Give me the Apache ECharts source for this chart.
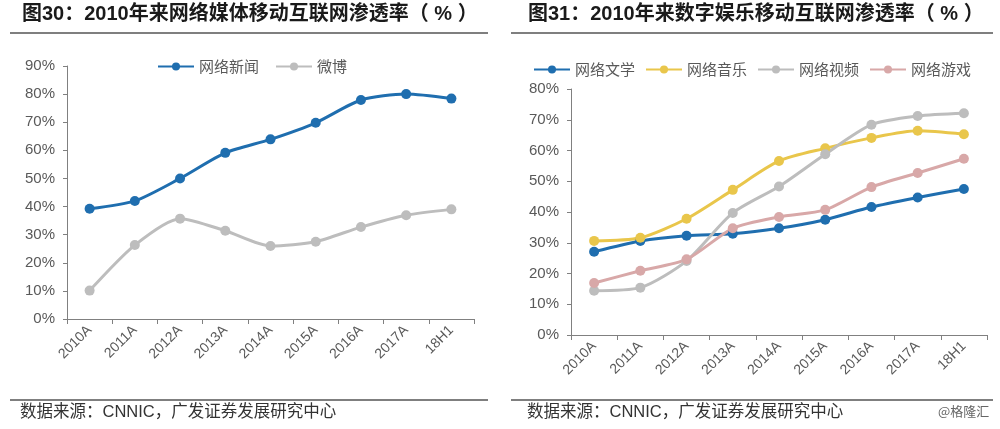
<!DOCTYPE html>
<html><head><meta charset="utf-8">
<script src="https://cdn.jsdelivr.net/npm/echarts@6/dist/echarts.min.js"></script>
<style>html,body{margin:0;padding:0;background:#fff}#c{width:1000px;height:429px}</style>
</head><body><div id="c"></div>
<script>
var categories = ['2010A','2011A','2012A','2013A','2014A','2015A','2016A','2017A','18H1'];
var newsValues = [39.2, 42.0, 50.0, 59.1, 63.9, 69.8, 77.9, 80.0, 78.4];
var weiboValues = [10.1, 26.3, 35.7, 31.4, 26.0, 27.5, 32.7, 36.9, 39.0];
var literatureValues = [27.1, 30.6, 32.3, 32.9, 34.7, 37.5, 41.6, 44.7, 47.5];
var musicValues = [30.6, 31.6, 37.8, 47.2, 56.6, 60.7, 64.1, 66.4, 65.3];
var videoValues = [14.4, 15.4, 24.1, 39.7, 48.3, 58.8, 68.4, 71.2, 72.1];
var gameValues = [16.9, 20.9, 24.6, 34.7, 38.4, 40.7, 48.1, 52.7, 57.3];
var leftTitle = '图30：2010年来网络媒体移动互联网渗透率（ % ）';
var rightTitle = '图31：2010年来数字娱乐移动互联网渗透率（ % ）';
var sourceText = '数据来源：CNNIC，广发证券发展研究中心';
var watermark = '@格隆汇';

var BLUE = '#1F6EAF', GRAY = '#BDBDBD', YELLOW = '#E9C64B', PINK = '#D8A8A8';
var LATIN_CJK = 'Arial, "Liberation Sans", "Noto Sans CJK SC", sans-serif';
var axisText = {color:'#595959', fontFamily:'Arial, "Liberation Sans", sans-serif', fontSize:15};
function yAxis(gi, max){
  return {type:'value', gridIndex:gi, min:0, max:max, interval:10,
    axisLine:{show:true, lineStyle:{color:'#808080'}},
    axisTick:{show:true, length:4, lineStyle:{color:'#808080'}},
    splitLine:{show:false},
    axisLabel:Object.assign({formatter:'{value}%', margin:12}, axisText)};
}
function xAxis(gi){
  return {type:'category', gridIndex:gi, data:categories, boundaryGap:true,
    axisLine:{lineStyle:{color:'#808080'}},
    axisTick:{show:true, length:5, alignWithLabel:false, lineStyle:{color:'#808080'}},
    axisLabel:Object.assign({rotate:45, margin:9, interval:0}, axisText, {fontSize:14})};
}
function line(name, data, color, gi){
  return {name:name, type:'line', data:data, xAxisIndex:gi, yAxisIndex:gi, smooth:0.25,
    symbol:'circle', symbolSize:10, lineStyle:{width:3, color:color},
    itemStyle:{color:color}, emphasis:{disabled:true}};
}
var chart = echarts.init(document.getElementById('c'), null, {renderer:'canvas'});
var titleStyle = {fontFamily:LATIN_CJK, fontWeight:'bold', fontSize:20, fill:'#1a1a1a'};
var srcStyle = {fontFamily:LATIN_CJK, fontSize:16.5, fill:'#333'};
var legendText = {color:'#595959', fontSize:15, fontFamily:'"Noto Sans CJK SC", sans-serif'};
chart.setOption({
  animation:false,
  grid:[{left:67, right:526, top:66, bottom:110, containLabel:false},
        {left:571, right:13, top:89, bottom:94, containLabel:false}],
  xAxis:[xAxis(0), xAxis(1)],
  yAxis:[yAxis(0, 90), yAxis(1, 80)],
  legend:[
    {data:['网络新闻','微博'], left:152, top:54, itemWidth:36, itemHeight:10, itemGap:16,
     textStyle:legendText},
    {data:['网络文学','网络音乐','网络视频','网络游戏'], left:528, top:57, itemWidth:36, itemHeight:10, itemGap:10,
     textStyle:legendText}
  ],
  series:[
    line('网络新闻', newsValues, BLUE, 0),
    line('微博', weiboValues, GRAY, 0),
    line('网络文学', literatureValues, BLUE, 1),
    line('网络音乐', musicValues, YELLOW, 1),
    line('网络视频', videoValues, GRAY, 1),
    line('网络游戏', gameValues, PINK, 1)
  ],
  graphic:[
    {type:'text', left:22, top:4, style:Object.assign({text:leftTitle}, titleStyle)},
    {type:'text', left:528, top:4, style:Object.assign({text:rightTitle}, titleStyle)},
    {type:'line', shape:{x1:10, y1:33, x2:488, y2:33}, style:{stroke:'#7f7f7f', lineWidth:2}},
    {type:'line', shape:{x1:511, y1:33, x2:993, y2:33}, style:{stroke:'#7f7f7f', lineWidth:2}},
    {type:'line', shape:{x1:10, y1:400, x2:488, y2:400}, style:{stroke:'#7f7f7f', lineWidth:2}},
    {type:'line', shape:{x1:511, y1:400, x2:993, y2:400}, style:{stroke:'#7f7f7f', lineWidth:2}},
    {type:'text', left:20, top:404, style:Object.assign({text:sourceText}, srcStyle)},
    {type:'text', left:527, top:404, style:Object.assign({text:sourceText}, srcStyle)},
    {type:'text', left:938, top:405, style:{text:watermark, fontFamily:'"Noto Sans CJK SC", sans-serif', fontSize:13, fill:'#666'}}
  ]
});
</script></body></html>
